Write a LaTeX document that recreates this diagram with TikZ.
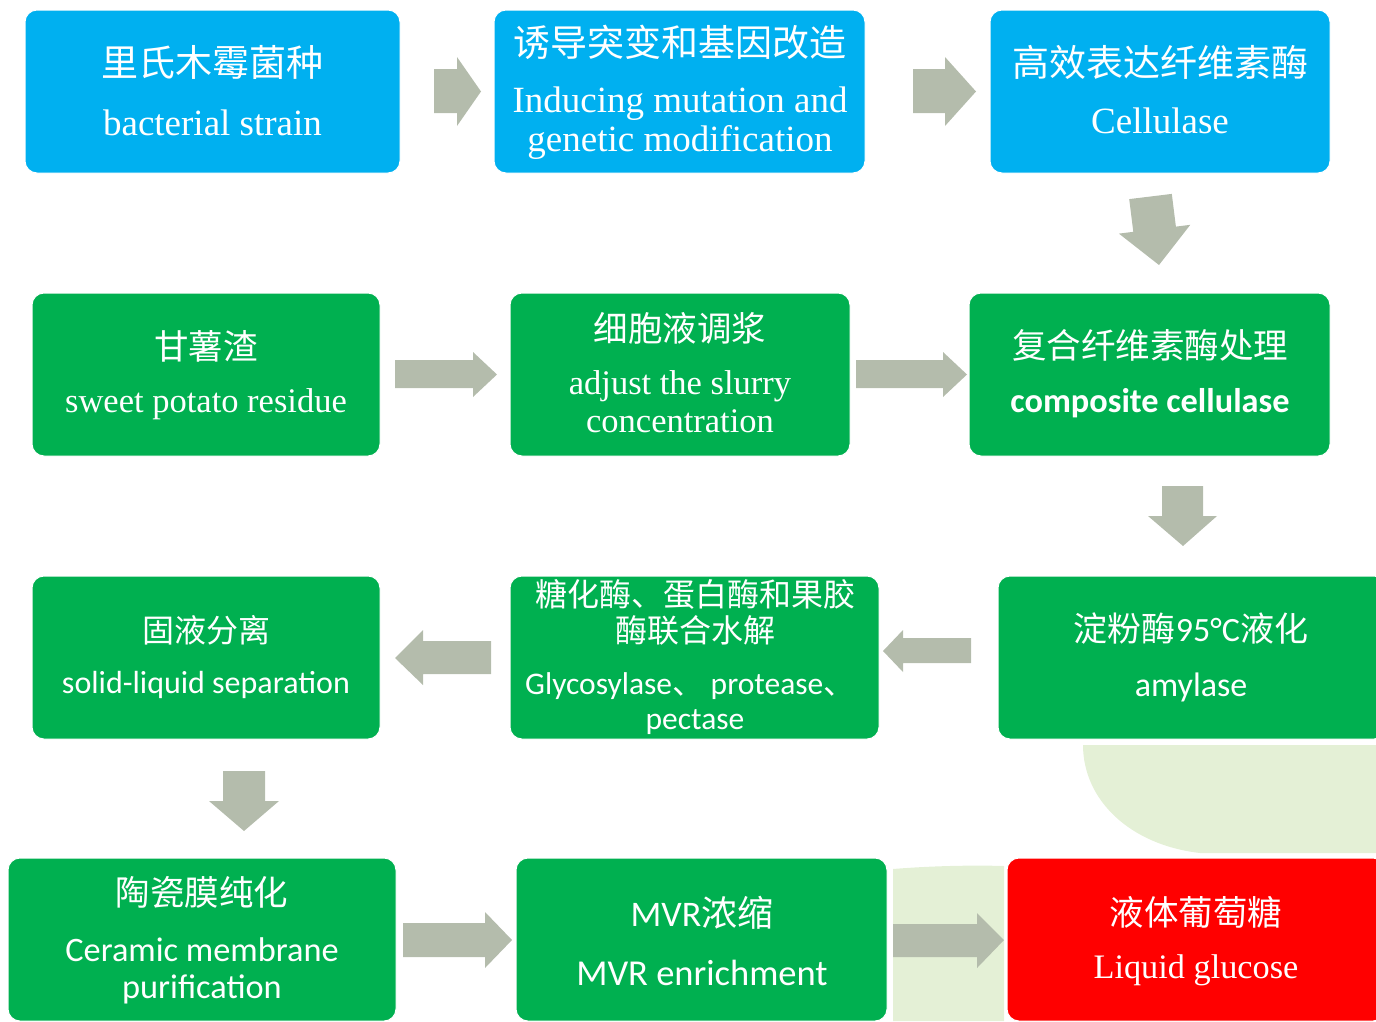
\documentclass[tikz,border=0pt]{standalone}
\usepackage{fontspec}
\setmainfont{Liberation Serif}
\newfontfamily\calfont{Carlito}
\newfontfamily\cjk{Noto Sans CJK SC}
\usetikzlibrary{calc}
\definecolor{cblue}{RGB}{0,176,240}
\definecolor{cgreen}{RGB}{0,176,80}
\definecolor{cred}{RGB}{255,0,0}
\definecolor{carrow}{RGB}{180,188,172}
\definecolor{cbg}{RGB}{228,240,214}
\begin{document}
\begin{tikzpicture}[x=1pt,y=-1pt,
  box/.style={rounded corners=12pt, draw=white, line width=1pt, inner sep=0pt, outer sep=0pt},
  bbox/.style={box, fill=cblue},
  gbox/.style={box, fill=cgreen},
  rbox/.style={box, fill=cred},
  txt/.style={text=white, inner sep=0pt, anchor=center},
  zh/.style={txt, font=\fontsize{#1}{#1}\selectfont\cjk},
  en/.style={txt, font=\fontsize{#1}{#1}\selectfont\rmfamily},
  sa/.style={txt, font=\fontsize{#1}{#1}\selectfont\calfont},
  sb/.style={txt, font=\fontsize{#1}{#1}\selectfont\calfont\bfseries},
  blk/.style={fill=carrow}]
\useasboundingbox (0,0) rectangle (1376,1021);
\clip (0,0) rectangle (1376,1021);

% background decorations
\fill[cbg] (1083,745) -- (1376,745) -- (1376,853) -- (1200,853)
  .. controls (1130,845) and (1083,800) .. (1083,745) -- cycle;
\fill[cbg] (893,869) .. controls (930,866) and (970,865) .. (1004,866) -- (1004,1021) -- (893,1021) -- cycle;

% boxes
\node[bbox, minimum width=375pt, minimum height=163pt] (b1) at (212.5,91.5) {};
\node[bbox, minimum width=371pt, minimum height=163pt] (b2) at (679.5,91.5) {};
\node[bbox, minimum width=340pt, minimum height=163pt] (b3) at (1160,91.5) {};
\node[gbox, minimum width=348pt, minimum height=163pt] (b4) at (206,374.5) {};
\node[gbox, minimum width=340pt, minimum height=163pt] (b5) at (680,374.5) {};
\node[gbox, minimum width=361pt, minimum height=163pt] (b6) at (1149.5,374.5) {};
\node[gbox, minimum width=348pt, minimum height=163pt] (b7) at (206,657.5) {};
\node[gbox, minimum width=369pt, minimum height=163pt] (b8) at (694.5,657.5) {};
\node[gbox, minimum width=388pt, minimum height=163pt] (b9) at (1192,657.5) {};
\node[gbox, minimum width=388pt, minimum height=163pt] (b10) at (202,939.5) {};
\node[gbox, minimum width=371pt, minimum height=163pt] (b11) at (701.5,939.5) {};
\node[rbox, minimum width=378pt, minimum height=163pt] (b12) at (1196,939.5) {};

% texts
\node[zh=37] (t1a) at (212.5,62) {里氏木霉菌种};
\node[en=37] (t1b) at (212.5,123) {bacterial strain};
\node[zh=37] (t2a) at (680,42) {诱导突变和基因改造};
\node[en=37] (t2b) at (680,104) {Inducing mutation and};
\node[en=37] (t2c) at (680,142) {genetic modification};
\node[zh=37] (t3a) at (1160,62) {高效表达纤维素酶};
\node[en=37] (t3b) at (1160,121) {Cellulase};

\node[zh=34.5] (t4a) at (206,346) {甘薯渣};
\node[en=34.5] (t4b) at (206,404) {sweet potato residue};
\node[zh=34.5] (t5a) at (680,328) {细胞液调浆};
\node[en=34.5] (t5b) at (680,386) {adjust the slurry};
\node[en=34.5] (t5c) at (680,421) {concentration};
\node[zh=34.5] (t6a) at (1150,345) {复合纤维素酶处理};
\node[sb=34.3] (t6b) at (1150,403) {composite cellulase};

\node[zh=32] (t7a) at (206,630) {固液分离};
\node[sa=32] (t7b) at (206,685) {solid-liquid separation};
\node[zh=32] (t8a) at (695,594) {糖化酶、蛋白酶和果胶};
\node[zh=32] (t8b) at (695,630) {酶联合水解};
\node[sa=31.5] (t8c) at (690,686) {Glycosylase{\cjk 、} protease{\cjk 、}};
\node[sa=31.5] (t8d) at (695,722) {pectase};
\node[zh=34] (t9a) at (1191,629) {淀粉酶{\calfont 95°C}液化};
\node[sa=34] (t9b) at (1191,687) {amylase};

\node[zh=34.5] (t10a) at (202,892) {陶瓷膜纯化};
\node[sa=34.3] (t10b) at (202,950) {Ceramic membrane};
\node[sa=34.3] (t10c) at (202,989) {purification};
\node[zh=36] (t11a) at (702,913) {{\calfont MVR}浓缩};
\node[sa=36.5] (t11b) at (702,973) {MVR enrichment};
\node[zh=34.5] (t12a) at (1196,912) {液体葡萄糖};
\node[en=34.3] (t12b) at (1196,970) {Liquid glucose};

% block arrows
\fill[blk] (434,69) -- (457,69) -- (457,57) -- (481,91.5) -- (457,126) -- (457,113) -- (434,113) -- cycle;
\fill[blk] (913,69) -- (945,69) -- (945,57) -- (976,91.5) -- (945,126) -- (945,113) -- (913,113) -- cycle;
\fill[blk] (1129.2,199.1) -- (1171.8,193.9) -- (1175.9,226.6) -- (1190.3,224.8) -- (1159,265)
  -- (1118.9,233.6) -- (1133.3,231.8) -- cycle;
\fill[blk] (395,360) -- (473,360) -- (473,352) -- (497,374.5) -- (473,397) -- (473,388) -- (395,388) -- cycle;
\fill[blk] (856,360) -- (943,360) -- (943,352) -- (967,374.5) -- (943,397) -- (943,388) -- (856,388) -- cycle;
\fill[blk] (1162,486) -- (1203,486) -- (1203,516) -- (1217,516) -- (1183,546) -- (1148,516) -- (1162,516) -- cycle;
\fill[blk] (971,638) -- (903,638) -- (903,630) -- (883,651) -- (903,672) -- (903,663) -- (971,663) -- cycle;
\fill[blk] (491,641) -- (423,641) -- (423,630) -- (395,658) -- (423,685) -- (423,674) -- (491,674) -- cycle;
\fill[blk] (223,771) -- (265,771) -- (265,801) -- (279,801) -- (244,831) -- (209,801) -- (223,801) -- cycle;
\fill[blk] (403,923) -- (485,923) -- (485,912) -- (512,940) -- (485,968) -- (485,957) -- (403,957) -- cycle;
\fill[blk] (893,924) -- (977,924) -- (977,913) -- (1004,940) -- (977,968) -- (977,957) -- (893,957) -- cycle;
\end{tikzpicture}
\end{document}
